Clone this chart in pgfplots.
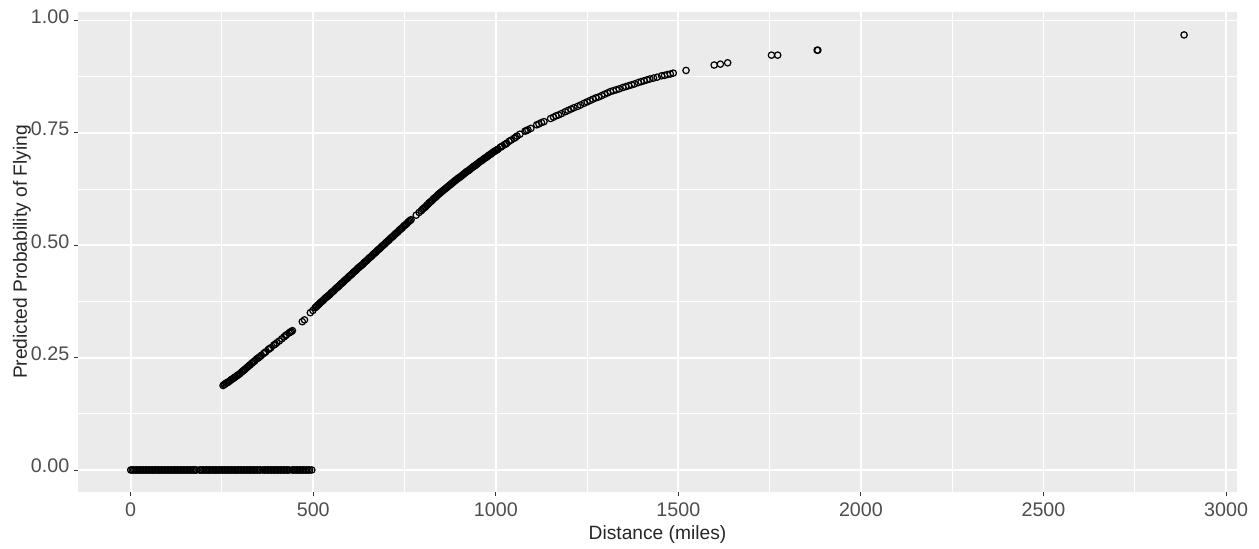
\documentclass[border=0pt]{standalone}
\usepackage{fontspec}
\setmainfont{Liberation Sans}
\usepackage{pgfplots}
\pgfplotsset{compat=1.18}
\usetikzlibrary{calc}
\definecolor{panelbg}{HTML}{EBEBEB}
\definecolor{ticklab}{HTML}{4D4D4D}
\definecolor{tickcol}{HTML}{333333}

\begin{document}
\begin{tikzpicture}
\begin{axis}[
    width=724.375pt, height=300pt, scale only axis,
    xmin=-144.3, xmax=3030, ymin=-0.049, ymax=1.019,
    axis background/.style={fill=panelbg},
    axis line style={draw=none},
    xtick={0,500,...,3000}, ytick={0,0.25,0.5,0.75,1},
    minor xtick={250,750,...,2750}, minor ytick={0.125,0.375,0.625,0.875},
    grid=both,
    major grid style={white, line width=1.1pt},
    minor grid style={white, line width=0.6pt},
    tick align=outside, xtick pos=bottom, ytick pos=left,
    major tick length=2.8pt, minor tick length=0pt,
    tick style={tickcol, line width=0.6pt},
    scaled ticks=false,
    /pgf/number format/assume math mode=true,
    ticklabel style={font=\fontsize{12.3}{14}\selectfont, text=ticklab, inner sep=0pt},
    xticklabel style={anchor=base, yshift=-12.8pt, /pgf/number format/1000 sep={}},
    yticklabel style={anchor=base east, xshift=-2.5pt, yshift=-1.8pt,
        /pgf/number format/.cd, fixed, fixed zerofill, precision=2},
    xlabel={Distance (miles)}, ylabel={Predicted Probability of Flying},
    every axis x label/.style={at={(rel axis cs:0.5,0)}, anchor=base, yshift=-29.4pt,
        font=\fontsize{12}{14}\selectfont, text=black!85},
    every axis y label/.style={at={(rel axis cs:0,0.5)}, xshift=-32pt, rotate=90, anchor=base,
        font=\fontsize{12}{14}\selectfont, text=black!85},
  ]
  % trips predicted at zero
  \addplot[only marks, mark=o, mark size=2pt, mark options={line width=0.75pt, draw=black}]
  coordinates {
  (0,0)(4,0)(8,0)(12,0)(16,0)(20,0)(24,0)(28,0)(32,0)(36,0)(40,0)(44,0)(48,0)(52,0)(56,0)(60,0)
  (64,0)(68,0)(72,0)(76,0)(80,0)(84,0)(88,0)(92,0)(96,0)(100,0)(104,0)(108,0)(112,0)(116,0)(120,0)
  (124,0)(128,0)(132,0)(136,0)(140,0)(144,0)(148,0)(152,0)(156,0)(160,0)(164,0)(168,0)(172,0)(176,0)
  (180,0)(188,0)(192,0)(196,0)(200,0)(204,0)(208,0)(212,0)(216,0)(220,0)(224,0)(228,0)(232,0)
  (236,0)(240,0)(244,0)(248,0)(252,0)(256,0)(260,0)(264,0)(268,0)(272,0)(276,0)(280,0)(284,0)
  (288,0)(292,0)(296,0)(300,0)(304,0)(308,0)(312,0)(316,0)(320,0)(324,0)(328,0)(332,0)(336,0)
  (340,0)(344,0)(348,0)(352,0)(356,0)(362,0)(366,0)(370,0)(374,0)(378,0)(382,0)(386,0)(390,0)
  (394,0)(398,0)(402,0)(406,0)(410,0)(414,0)(418,0)(422,0)(426,0)(430,0)(434,0)(442,0)(446,0)
  (450,0)(454,0)(458,0)(462,0)(466,0)(470,0)(474,0)(478,0)(482,0)(486,0)(490,0)(496,0)
  };
  % fitted probabilities
  \addplot[only marks, mark=o, mark size=2pt, mark options={line width=0.75pt, draw=black}]
  coordinates {
  (253,0.188)(256,0.190)(258,0.191)(261,0.193)(263,0.194)(266,0.195)(268,0.196)(271,0.198)
  (274,0.200)(277,0.202)(280,0.203)(283,0.205)(286,0.207)(290,0.209)(293,0.211)(297,0.213)
  (300,0.215)(304,0.218)(307,0.220)(310,0.222)(313,0.224)(317,0.227)(320,0.229)(324,0.232)
  (327,0.234)(331,0.237)(334,0.239)(337,0.241)(340,0.243)(345,0.247)(349,0.249)
  (352,0.251)(355,0.253)(358,0.255)(364,0.259)(367,0.261)(370,0.263)(377,0.268)(380,0.270)
  (384,0.272)(392,0.278)(396,0.280)(400,0.283)(407,0.287)(414,0.292)(420,0.296)(424,0.299)
  (427,0.301)(434,0.305)(437,0.307)(440,0.308)(443,0.310)
  (470,0.330)(476,0.334)(492,0.350)(499,0.355)
  (505,0.361)(508,0.363)(510,0.365)(513,0.367)(516,0.369)(519,0.372)(522,0.374)(525,0.376)
  (528,0.378)(531,0.381)(534,0.383)(537,0.385)(540,0.387)(543,0.389)(546,0.391)(549,0.394)
  (552,0.396)(555,0.398)(558,0.400)(561,0.403)(564,0.405)(567,0.407)(570,0.409)(573,0.412)
  (576,0.414)(579,0.416)(582,0.418)(585,0.421)(588,0.423)(591,0.425)(594,0.427)(597,0.430)
  (600,0.432)(603,0.434)(606,0.436)(609,0.439)(612,0.441)(615,0.443)(618,0.445)(621,0.448)
  (624,0.450)(627,0.452)(630,0.454)(633,0.456)(636,0.458)(639,0.461)(642,0.463)(645,0.465)
  (648,0.467)(651,0.470)(654,0.472)(657,0.474)(660,0.476)(663,0.479)(666,0.481)(669,0.483)
  (672,0.485)(675,0.488)(678,0.490)(681,0.492)(684,0.494)(687,0.497)(690,0.499)(693,0.501)
  (696,0.503)(699,0.506)(702,0.508)(705,0.510)(708,0.512)(711,0.515)(714,0.517)(717,0.519)
  (720,0.521)(723,0.524)(726,0.526)(729,0.528)(732,0.530)(735,0.533)(738,0.535)(741,0.537)
  (744,0.539)(747,0.542)(750,0.544)(753,0.546)(756,0.548)(759,0.551)(762,0.553)(765,0.555)
  (768,0.557)
  (782,0.567)(790,0.573)(796,0.577)(799,0.580)(802,0.582)(805,0.584)(808,0.586)(811,0.589)
  (814,0.591)(817,0.594)(820,0.596)(823,0.598)(826,0.600)(829,0.603)(832,0.605)(835,0.607)
  (838,0.609)(841,0.612)(844,0.614)(847,0.616)(850,0.618)(853,0.620)(856,0.622)(859,0.624)
  (862,0.626)(865,0.628)(868,0.630)(871,0.632)(874,0.634)(877,0.636)(880,0.638)(883,0.640)
  (886,0.642)(889,0.644)(892,0.646)(895,0.648)(898,0.650)(901,0.651)(904,0.653)(907,0.655)
  (910,0.657)(913,0.659)(916,0.661)(919,0.663)(922,0.665)(925,0.666)(928,0.668)(931,0.670)
  (934,0.672)(937,0.674)(940,0.676)(943,0.677)(946,0.679)(949,0.681)(952,0.683)(955,0.685)
  (958,0.687)(961,0.688)(964,0.690)(967,0.692)(970,0.694)(973,0.695)(976,0.697)(979,0.699)
  (982,0.701)(985,0.702)(988,0.704)(991,0.706)(994,0.708)(997,0.709)(1000,0.711)(1003,0.712)
  (1006,0.714)(1012,0.718)(1015,0.719)(1018,0.721)(1024,0.724)(1027,0.725)(1030,0.727)
  (1036,0.731)(1042,0.734)
  (1050,0.738)(1054,0.740)(1058,0.743)(1066,0.747)(1080,0.754)(1084,0.755)(1088,0.757)(1096,0.760)
  (1112,0.768)(1118,0.770)(1125,0.773)(1132,0.775)(1150,0.782)(1158,0.785)(1165,0.788)
  (1172,0.790)(1180,0.793)(1190,0.797)(1198,0.800)(1206,0.803)(1214,0.806)(1224,0.809)
  (1232,0.812)(1242,0.816)(1250,0.819)(1258,0.822)(1266,0.825)(1274,0.828)(1282,0.830)
  (1290,0.833)(1298,0.836)(1306,0.839)(1314,0.842)(1322,0.844)(1330,0.846)(1338,0.848)
  (1348,0.851)(1356,0.853)(1364,0.855)(1372,0.857)(1380,0.859)(1390,0.862)(1398,0.864)
  (1406,0.866)(1414,0.868)(1422,0.870)(1432,0.872)(1442,0.874)(1454,0.877)(1462,0.878)
  (1470,0.880)(1478,0.881)(1486,0.883)
  (1521,0.889)(1598,0.901)(1615,0.903)(1635,0.906)(1755,0.923)(1772,0.923)
  (1880,0.934)(1882,0.934)(2885,0.968)
  };
\end{axis}
\path ($(current axis.south west)+(-48.75pt,-34.375pt)$) rectangle ($(current axis.north east)+(13.75pt,7.5pt)$);
\end{tikzpicture}
\end{document}
